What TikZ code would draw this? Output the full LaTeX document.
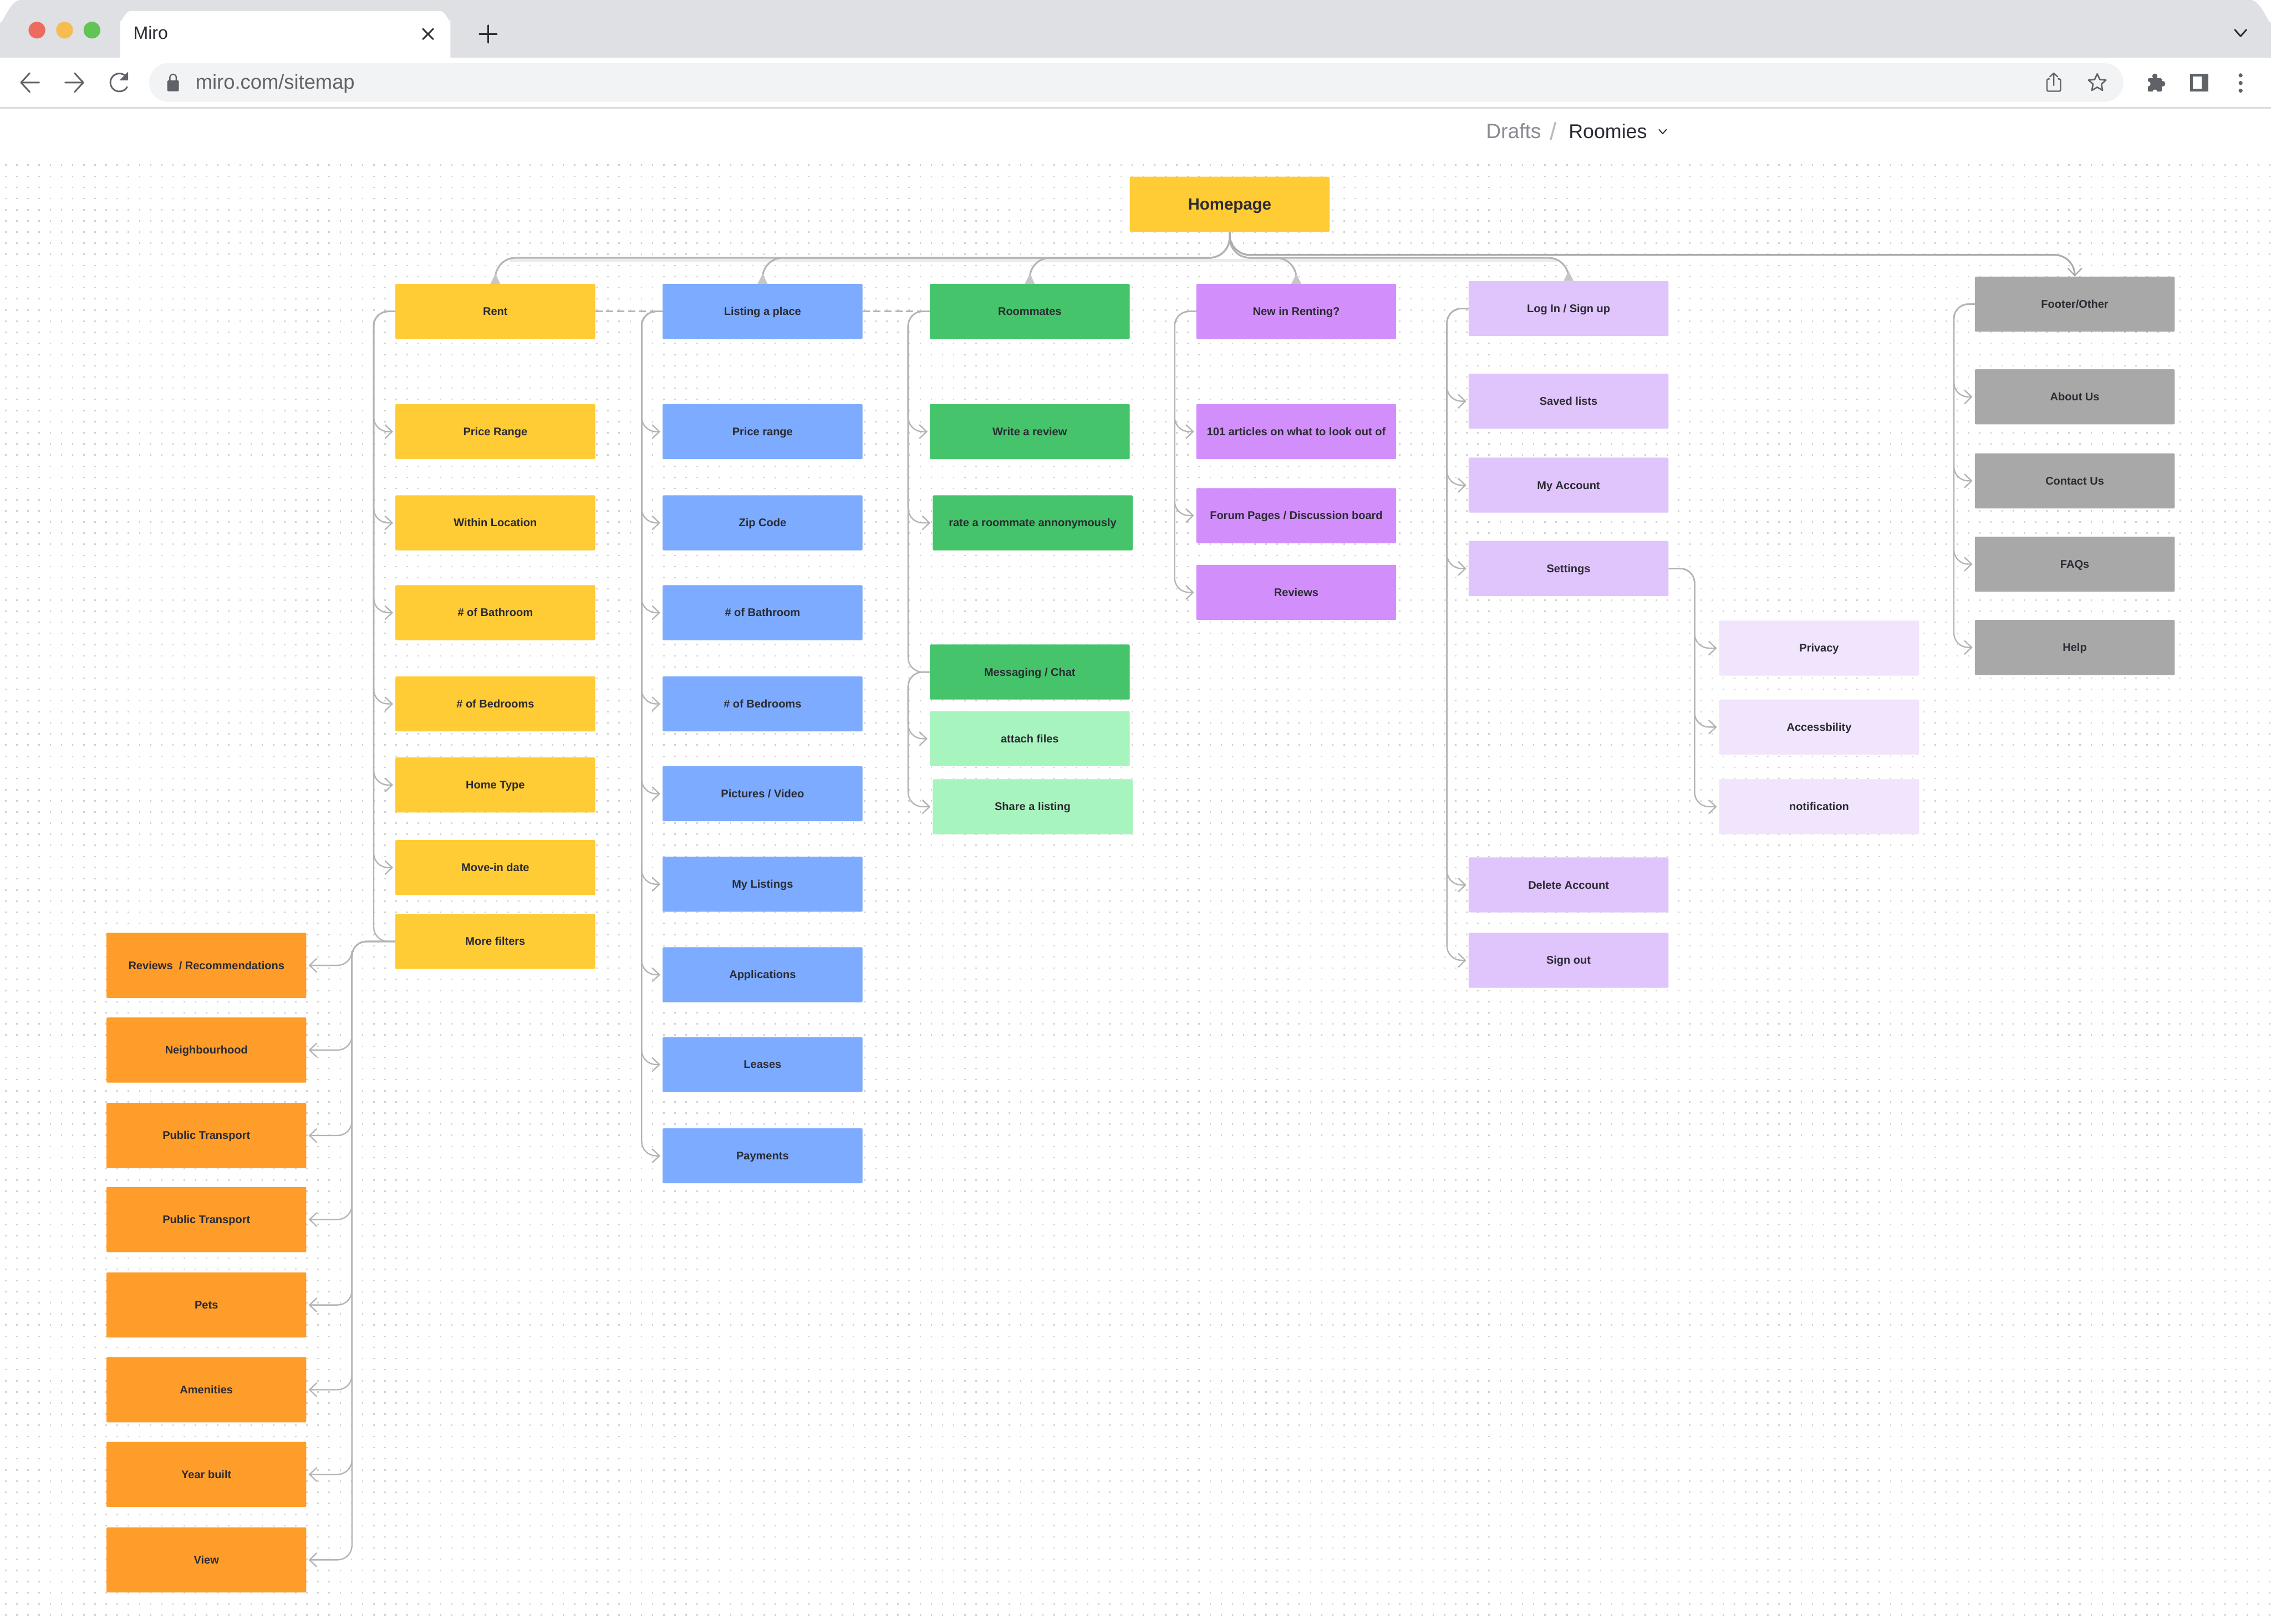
\documentclass[tikz,border=0pt]{standalone}
\usepackage{fontspec}
\setmainfont{Liberation Sans}
\usetikzlibrary{arrows.meta,calc}
\definecolor{ink}{HTML}{2B2B33}
\definecolor{chromeg}{HTML}{DFE0E4}
\definecolor{urlg}{HTML}{F1F3F4}
\definecolor{iconc}{HTML}{5F6368}
\definecolor{dotc}{HTML}{D2D2D2}
\definecolor{linec}{HTML}{B4B4B4}
\definecolor{linelt}{HTML}{ECECEC}
\definecolor{linedk}{HTML}{ABABAB}
\definecolor{tipc}{HTML}{C6C6C6}
\definecolor{sepc}{HTML}{DCDCDC}
\definecolor{tlr}{HTML}{EE6A5F}
\definecolor{tly}{HTML}{F5BD4F}
\definecolor{tlg}{HTML}{61C454}
\definecolor{draftc}{HTML}{8A8A92}
\definecolor{slashc}{HTML}{B8B8BE}
\definecolor{yel}{HTML}{FFCC36}
\definecolor{blu}{HTML}{7CABFF}
\definecolor{grn}{HTML}{45C46B}
\definecolor{lgrn}{HTML}{A8F4BE}
\definecolor{pur}{HTML}{D28FFB}
\definecolor{lpur}{HTML}{E0C5FC}
\definecolor{vpur}{HTML}{F0E5FC}
\definecolor{gry}{HTML}{A8A8A8}
\definecolor{org}{HTML}{FF9D2B}
\tikzset{
  x=1mm,y=-1mm,
  bx/.style={rectangle,minimum width=138mm,minimum height=38mm,inner sep=0pt,rounded corners=0.8mm,text=ink,text height=7mm,text depth=1.7mm,font=\fontsize{21.8}{25}\selectfont\bfseries},
  yb/.style={bx,fill=yel}, bb/.style={bx,fill=blu}, gb/.style={bx,fill=grn}, lg/.style={bx,fill=lgrn},
  pb/.style={bx,fill=pur}, lb/.style={bx,fill=lpur}, vb/.style={bx,fill=vpur}, ab/.style={bx,fill=gry},
  ob/.style={bx,fill=org,minimum height=45mm},
  topc/.style={draw=linec,line width=1.2mm,rounded corners=14mm,-{Triangle[reversed,length=7mm,width=6.5mm,color=tipc]}},
  sidec/.style={draw=linec,line width=0.9mm,rounded corners=10mm,-{Straight Barb[length=5mm,width=9.5mm,line width=0.9mm]},shorten >=1.5mm},
  plainc/.style={draw=linec,line width=0.9mm,rounded corners=10mm},
  dashln/.style={draw=linec,line width=1mm,dash pattern=on 5mm off 2.5mm},
  ic/.style={draw=iconc,line width=1.1mm,line cap=round,line join=round,fill=none},
  uit/.style={inner sep=0pt,anchor=west}
}
\begin{document}
\begin{tikzpicture}
\useasboundingbox (0,0) rectangle (1568,1121);
\fill[white] (0,0) rectangle (1568,1121);
% dot grid
\foreach \i in {0,...,130}{
  \draw[dotc,line width=1mm,dash pattern=on 1mm off 6.7mm] (3.5,{114+\i*7.7}) -- (1568,{114+\i*7.7});
}
% browser chrome
\fill[chromeg] (0,40) -- (0,14) to[out=-90,in=180] (14,0) -- (1554,0) to[out=0,in=-90] (1568,14) -- (1568,40) -- cycle;
\fill[white] (83,40) -- (83,14) to[out=-90,in=180] (90,7.6) -- (304,7.6) to[out=0,in=-90] (311,14) -- (311,40) -- cycle;
\fill[white] (0,40) rectangle (1568,74);
\fill[sepc] (0,74) rectangle (1568,75);
\fill[urlg,rounded corners=13mm] (103,43.6) rectangle (1466,70.3);
\fill[tlr] (25.5,20.8) circle (5.8);
\fill[tly] (44.6,20.8) circle (5.8);
\fill[tlg] (63.5,20.8) circle (5.8);
\node[uit,font=\fontsize{35}{40}\selectfont,text=ink] (tabt) at (92,22.5) {Miro};
\draw[ink,line width=1.1mm,line cap=round] (292,20) -- (299,27) (299,20) -- (292,27);
\draw[ink,line width=1.2mm,line cap=round] (337,17.5) -- (337,29.5) (331,23.5) -- (343,23.5);
\draw[ink,line width=1.1mm,line cap=round,line join=round] (1543,20.5) -- (1547,25) -- (1551,20.5);
\draw[ic] (27,57) -- (15,57) (20.5,50.5) -- (14.5,57) -- (20.5,63.5);
\draw[ic] (45,57) -- (57,57) (51.5,50.5) -- (57.5,57) -- (51.5,63.5);
\draw[ic] (87.5,53.4) arc[start angle=35,end angle=330,radius=6.2mm];
\fill[iconc] (88.5,49.5) -- (88.5,55.5) -- (82.5,55.5) -- cycle;
\fill[iconc,rounded corners=0.6mm] (115.5,55.5) rectangle (123.5,63);
\draw[iconc,line width=0.9mm] (117.3,56) -- (117.3,53.5) arc[start angle=180,end angle=0,radius=2.2mm] -- (121.7,56);
\node[uit,font=\fontsize{39.6}{43}\selectfont,text=iconc] (urlt) at (135,57.7) {miro.com/sitemap};
% share
\draw[ic,line width=0.9mm,rounded corners=1mm] (1415,54.5) -- (1413.3,54.5) -- (1413.3,63) -- (1422.7,63) -- (1422.7,54.5) -- (1421,54.5);
\draw[ic,line width=0.9mm] (1418,59) -- (1418,50.5) (1415.3,53) -- (1418,50.5) -- (1420.7,53);
% star
\draw[ic,line width=1mm] (1448,51) -- (1449.8,54.9) -- (1454,55.3) -- (1450.9,58.1) -- (1451.7,62.4) -- (1448,60.2) -- (1444.3,62.4) -- (1445.1,58.1) -- (1442,55.3) -- (1446.2,54.9) -- cycle;
% puzzle
\fill[iconc,rounded corners=0.6mm] (1483,54) rectangle (1492.6,63.2);
\fill[iconc] (1487.8,52.6) circle (1.8) (1493,57.8) circle (2);
\fill[white] (1483,57.9) circle (1.8) (1487.8,63.4) circle (1.6);
% panel
\fill[iconc] (1512.2,51) rectangle (1524.8,63.2);
\fill[white] (1514,52.7) rectangle (1520.3,61.4);
\fill[iconc] (1547,52) circle (1.4) (1547,57.3) circle (1.4) (1547,62.6) circle (1.4);
% breadcrumb
\node[uit,font=\fontsize{40.5}{43}\selectfont,text=draftc] (dr) at (1026,90.5) {Drafts};
\node[uit,font=\fontsize{48}{52}\selectfont,text=slashc] (sl) at (1070,90.5) {/};
\node[uit,font=\fontsize{39}{43}\selectfont,text=ink] (ro) at (1083,90.5) {Roomies};
\draw[ink,line width=0.7mm,line cap=round,line join=round] (1145.5,89.5) -- (1148,92.3) -- (1150.5,89.5);
% nodes
\node[yb,text height=10.5mm,text depth=2.5mm,font=\fontsize{32}{36}\selectfont\bfseries] (home) at (849,141) {Homepage};
\node[yb] (rent) at (342,215) {Rent};
\node[yb] (r1) at (342,298) {Price Range};
\node[yb] (r2) at (342,361) {Within Location};
\node[yb] (r3) at (342,423) {\# of Bathroom};
\node[yb] (r4) at (342,486) {\# of Bedrooms};
\node[yb] (r5) at (342,542) {Home Type};
\node[yb] (r6) at (342,599) {Move-in date};
\node[yb] (r7) at (342,650) {More filters};
\node[bb] (list) at (526.5,215) {Listing a place};
\node[bb] (l1) at (526.5,298) {Price range};
\node[bb] (l2) at (526.5,361) {Zip Code};
\node[bb] (l3) at (526.5,423) {\# of Bathroom};
\node[bb] (l4) at (526.5,486) {\# of Bedrooms};
\node[bb] (l5) at (526.5,548) {Pictures / Video};
\node[bb] (l6) at (526.5,610.5) {My Listings};
\node[bb] (l7) at (526.5,673) {Applications};
\node[bb] (l8) at (526.5,735) {Leases};
\node[bb] (l9) at (526.5,798) {Payments};
\node[gb] (room) at (711,215) {Roommates};
\node[gb] (m1) at (711,298) {Write a review};
\node[gb] (m2) at (713,361) {rate a roommate annonymously};
\node[gb] (m3) at (711,464) {Messaging / Chat};
\node[lg] (m4) at (711,510) {attach files};
\node[lg] (m5) at (713,557) {Share a listing};
\node[pb] (new) at (895,215) {New in Renting?};
\node[pb] (n1) at (895,298) {101 articles on what to look out of};
\node[pb] (n2) at (895,356) {Forum Pages / Discussion board};
\node[pb] (n3) at (895,409) {Reviews};
\node[lb] (log) at (1083,213) {Log In / Sign up};
\node[lb] (g1) at (1083,277) {Saved lists};
\node[lb] (g2) at (1083,335) {My Account};
\node[lb] (g3) at (1083,392.5) {Settings};
\node[lb] (g4) at (1083,611) {Delete Account};
\node[lb] (g5) at (1083,663) {Sign out};
\node[vb] (s1) at (1256,447.5) {Privacy};
\node[vb] (s2) at (1256,502) {Accessbility};
\node[vb] (s3) at (1256,557) {notification};
\node[ab] (foot) at (1432.5,210) {Footer/Other};
\node[ab] (f1) at (1432.5,274) {About Us};
\node[ab] (f2) at (1432.5,332) {Contact Us};
\node[ab] (f3) at (1432.5,389.5) {FAQs};
\node[ab] (f4) at (1432.5,447) {Help};
\node[ob] (o1) at (142.5,666.5) {Reviews~ / Recommendations};
\node[ob] (o2) at (142.5,725) {Neighbourhood};
\node[ob] (o3) at (142.5,784) {Public Transport};
\node[ob] (o4) at (142.5,842) {Public Transport};
\node[ob] (o5) at (142.5,901) {Pets};
\node[ob] (o6) at (142.5,959.5) {Amenities};
\node[ob] (o7) at (142.5,1018) {Year built};
\node[ob] (o8) at (142.5,1077) {View};
% buses
\coordinate (brent) at (258,215);
\coordinate (blist) at (443,215);
\coordinate (broom) at (627,215);
\coordinate (bnew) at (811,215);
\coordinate (blog) at (999,213);
\coordinate (bfoot) at (1349,210);
\coordinate (bset) at (1170,392.5);
\coordinate (bmore) at (243,650);
% top connectors
\coordinate (trunk) at (849,178);
\coordinate (trunkb) at (849,176);
\fill[linelt] (352,178.6) rectangle (1075,181);
\foreach \t in {rent,list,room,new,log}{
  \draw[topc] (home.south) -- (trunk) -| (\t.north);
}
\draw[topc,-{Straight Barb[length=5mm,width=9.5mm,line width=0.9mm]},draw=linedk] (home.south) -- (trunkb) -| (foot.north);
% dashed
\draw[dashln] (rent.east) -- (list.west);
\draw[dashln] (list.east) -- (room.west);
% side connectors
\foreach \c in {r1,r2,r3,r4,r5,r6}{ \draw[sidec] (rent.west) -| (brent |- \c.west) -- (\c.west); }
\draw[plainc] (rent.west) -| (brent |- r7.west) -- (r7.west);
\foreach \c in {l1,l2,l3,l4,l5,l6,l7,l8,l9}{ \draw[sidec] (list.west) -| (blist |- \c.west) -- (\c.west); }
\foreach \c in {m1,m2}{ \draw[sidec] (room.west) -| (broom |- \c.west) -- (\c.west); }
\draw[plainc] (room.west) -| (broom |- m3.west) -- (m3.west);
\foreach \c in {m4,m5}{ \draw[sidec] (m3.west) -| (broom |- \c.west) -- (\c.west); }
\foreach \c in {n1,n2,n3}{ \draw[sidec] (new.west) -| (bnew |- \c.west) -- (\c.west); }
\foreach \c in {g1,g2,g3,g4,g5}{ \draw[sidec] (log.west) -| (blog |- \c.west) -- (\c.west); }
\foreach \c in {f1,f2,f3,f4}{ \draw[sidec] (foot.west) -| (bfoot |- \c.west) -- (\c.west); }
\foreach \c in {s1,s2,s3}{ \draw[sidec] (g3.east) -| (bset |- \c.west) -- (\c.west); }
\foreach \c in {o1,o2,o3,o4,o5,o6,o7,o8}{ \draw[sidec] (r7.west) -| (bmore |- \c.east) -- (\c.east); }
\end{tikzpicture}
\end{document}
